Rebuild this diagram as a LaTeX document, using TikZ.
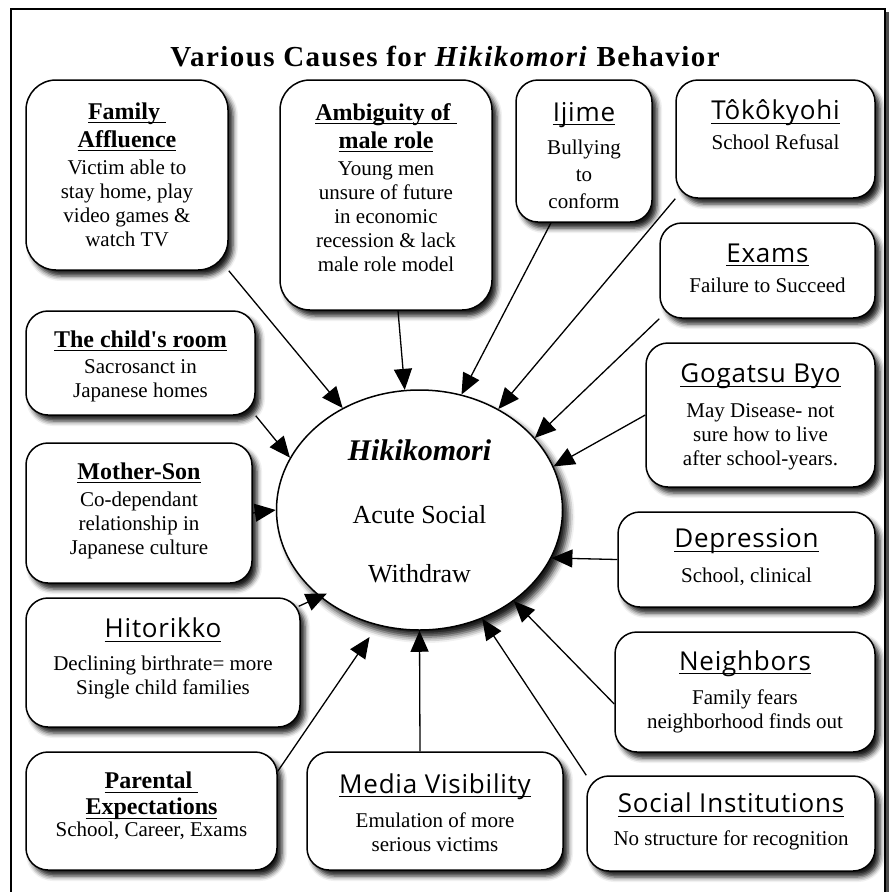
\documentclass[tikz,border=0pt]{standalone}
\usepackage{fontspec}
\setmainfont{Liberation Serif}
\newfontfamily\plainserif{Liberation Serif}[Ligatures=TeXOff]
\newfontfamily\handfont{Open Sans}[LetterSpace=3]
\usetikzlibrary{arrows.meta,shapes.geometric,shadows.blur}
\newcommand\myul[1]{\setbox0\hbox{#1}\rlap{\rule[-4pt]{\wd0}{1.1pt}}\box0}
\newcommand\hb[1]{{\fontsize{24}{24}\selectfont\bfseries\myul{#1}}}
\newcommand\hh[1]{{\handfont\fontsize{26}{26}\selectfont\myul{#1}}}
\newcommand\sq{{\plainserif\bfseries\symbol{39}}}
\tikzset{
  box/.style={draw, line width=1.5pt, fill=white, rounded corners=22pt, inner sep=0pt,
    blur shadow={shadow xshift=5pt, shadow yshift=-6pt, shadow blur radius=5pt, shadow opacity=90}},
  txt/.style={align=center, inner sep=0pt, font=\fontsize{21}{24}\selectfont},
  conn/.style={line width=1.3pt, -{Triangle[length=21pt,width=18pt]}},
}
\begin{document}
\begin{tikzpicture}[x=1pt,y=-1pt]
\useasboundingbox (0,0) rectangle (890,892);
\fill[black!70] (885,12) rectangle (889,905);
\draw[line width=1.2pt] (11,9) rectangle (885,905);

\node (title) at (445,57) {\fontsize{29}{29}\selectfont\bfseries\addfontfeature{LetterSpace=5}Various Causes for \textit{Hikikomori} Behavior};

% ellipse
\node[ellipse, draw, line width=1.5pt, fill=white, minimum width=286pt, minimum height=240pt, inner sep=0pt,
  blur shadow={shadow xshift=6pt, shadow yshift=-7pt, shadow blur radius=6pt, shadow opacity=90}] (hiki) at (419.5,510) {};
\node[align=center, inner sep=0pt, font=\fontsize{26}{26}\selectfont] (hikit) at (419.5,511)
  {{\fontsize{30}{30}\selectfont\bfseries\itshape Hikikomori}\\[37pt]Acute Social\\[33pt]Withdraw};

% boxes
\node[box, rounded corners=30pt, minimum width=202pt, minimum height=190pt] (fam) at (127,175) {};
\node[box, rounded corners=30pt, minimum width=212pt, minimum height=230pt] (amb) at (386,195) {};
\node[box, minimum width=136pt, minimum height=142pt] (ij) at (584,151) {};
\node[box, minimum width=199pt, minimum height=118pt] (tok) at (775.5,139) {};
\node[box, minimum width=215pt, minimum height=95pt] (exams) at (767.5,270.5) {};
\node[box, minimum width=229pt, minimum height=144pt] (gog) at (760.5,415) {};
\node[box, minimum width=257pt, minimum height=95pt] (dep) at (746.5,559.5) {};
\node[box, minimum width=260pt, minimum height=120pt] (neigh) at (745,692) {};
\node[box, minimum width=288pt, minimum height=95pt] (soc) at (731,823.5) {};
\node[box, minimum width=256pt, minimum height=118pt] (media) at (435,811) {};
\node[box, minimum width=251pt, minimum height=118pt] (par) at (151.5,811) {};
\node[box, minimum width=274pt, minimum height=129pt] (hit) at (163,662.5) {};
\node[box, minimum width=226pt, minimum height=140pt] (mom) at (139,513) {};
\node[box, minimum width=229pt, minimum height=104pt] (child) at (140.5,363) {};

% texts
\node[txt] (famt) at (127,174.5) {\hb{Family\ }\\[4pt]\hb{Affluence}\\[3pt]Victim able to\\stay home, play\\video games \&\\watch TV};
\node[txt] (ambt) at (386,187.5) {\hb{Ambiguity of\ }\\[4pt]\hb{male role}\\[3pt]Young men\\unsure of future\\in economic\\recession \& lack\\male role model};
\node[txt] (ijt) at (584,155.5) {\hh{Ijime}\\[9pt]Bullying\\[3pt]to\\[3pt]conform};
\node[txt] (tokt) at (775.5,125) {\hh{Tôkôkyohi}\\[6pt]School Refusal};
\node[txt] (examst) at (767.5,268) {\hh{Exams}\\[6pt]Failure to Succeed};
\node[txt] (gogt) at (760.5,417) {\hh{Gogatsu Byo}\\[11pt]May Disease- not\\sure how to live\\after school-years.};
\node[txt] (dept) at (746.5,557.5) {\hh{Depression}\\[11pt]School, clinical};
\node[txt] (neight) at (745,691.5) {\hh{Neighbors}\\[10pt]Family fears\\neighborhood finds out};
\node[txt] (soct) at (731,821.5) {\hh{Social Institutions}\\[9pt]No structure for recognition};
\node[txt] (mediat) at (435,812.5) {\hh{Media Visibility}\\[10pt]Emulation of more\\serious victims};
\node[txt] (part) at (151.5,806) {\hb{Parental\ }\\[2pt]\hb{Expectations}\\[-2pt]School, Career, Exams};
\node[txt] (hitt) at (163,658.5) {\hh{Hitorikko}\\[9pt]Declining birthrate= more\\Single child families};
\node[txt] (momt) at (139,510.5) {\hb{Mother-Son}\\[3pt]Co-dependant\\relationship in\\Japanese culture};
\node[txt] (childt) at (140.5,366) {\hb{The child\sq s room}\\[2pt]Sacrosanct in\\Japanese homes};

% connectors
\draw[conn] (fam.south east) -- (hiki.127);
\draw[conn] ([xshift=12pt]amb.south) -- (hiki.97);
\draw[conn] ([xshift=-33pt]ij.south) -- (hiki.70);
\draw[conn] (tok.south west) -- (hiki.52);
\draw[conn] (exams.south west) -- (hiki.32);
\draw[conn] (gog.west) -- (hiki.18);
\draw[conn] (dep.west) -- (hiki.-20);
\draw[conn] ([yshift=-12pt]neigh.west) -- (hiki.-44);
\draw[conn] (soc.north west) -- (hiki.-60);
\draw[conn] ([xshift=-15pt]media.north) -- (hiki.-90);
\draw[conn, shorten >=14pt] ([yshift=-20pt]par.north east) -- (hiki.-110);
\draw[conn, shorten >=-8pt] ([xshift=-2pt,yshift=-9pt]hit.north east) -- (hiki.-139);
\draw[conn] (mom.east) -- (hiki.180);
\draw[conn] (child.south east) -- (hiki.158);
\end{tikzpicture}
\end{document}
